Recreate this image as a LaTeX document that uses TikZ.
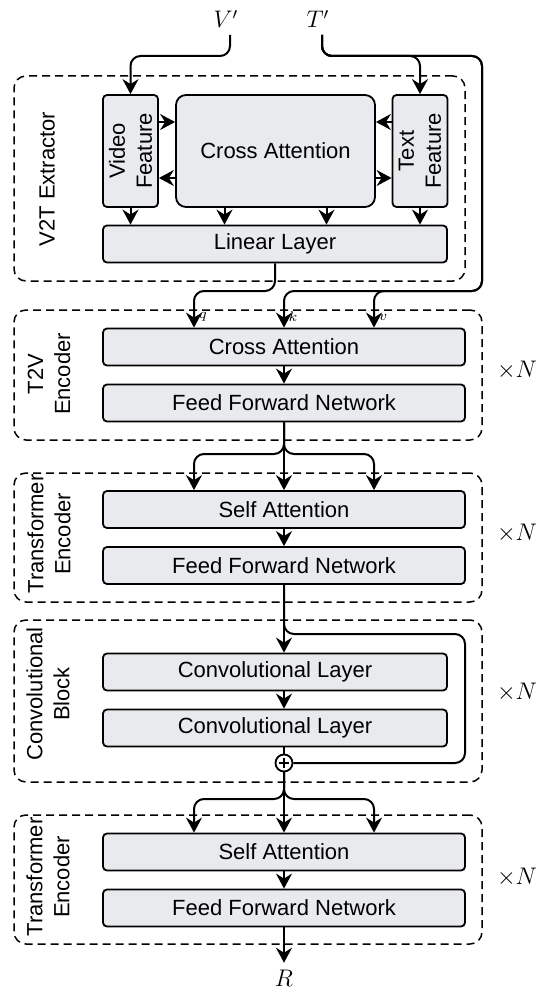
\documentclass[tikz,border=0pt]{standalone}
\usepackage{fontspec}
\setmainfont{Liberation Sans}
\usepackage{amsmath}
\usetikzlibrary{arrows.meta,calc,positioning}
\definecolor{blkfill}{RGB}{232,234,237}
\tikzset{
  blk/.style={draw, line width=0.9pt, fill=blkfill, rounded corners=2pt, inner sep=0pt, font=\fontsize{11}{13}\selectfont},
  wideblk/.style={blk, minimum width=181pt, minimum height=18.5pt},
  convblk/.style={blk, minimum width=172pt, minimum height=18.5pt},
  grp/.style={draw, dash pattern=on 4pt off 2.5pt, line width=0.75pt, rounded corners=6pt, minimum width=234pt, inner sep=0pt},
  grplbl/.style={rotate=90, align=center, font=\fontsize{11}{13.5}\selectfont},
  ln/.style={line width=1pt, rounded corners=5pt},
  arr/.style={ln, -{Stealth[length=7.5pt,width=8pt,inset=2.5pt]}},
  mlbl/.style={font=\fontsize{12}{14}\selectfont},
  idx/.style={font=\fontsize{7}{8}\selectfont, inner sep=0pt},
}
\begin{document}
\begin{tikzpicture}[x=0.5pt,y=-0.5pt]
\useasboundingbox (0,0) rectangle (539,990);

\node[grp, minimum width=225.5pt, minimum height=102.5pt] (v2tgrp) at (239.5,178.5) {};
\node[grp, minimum height=65pt] (t2vgrp) at (248,375) {};
\node[grp, minimum height=64.5pt] (trfgrpa) at (248,537.5) {};
\node[grp, minimum height=81pt] (convgrp) at (248,701) {};
\node[grp, minimum height=64.5pt] (trfgrpb) at (248,879.5) {};

\node[grplbl] (v2tlbl) at (47,179) {V2T Extractor};
\node[grplbl] (t2vlbl) at (49,374) {T2V\\Encoder};
\node[grplbl] (trflbla) at (49,534) {Transformer\\Encoder};
\node[grplbl] (convlbl) at (48,694) {Convolutional\\Block};
\node[grplbl] (trflblb) at (48,877) {Transformer\\Encoder};

\foreach \y/\n in {370/a,533/b,692/c,877/d}
  \node[mlbl] (rep\n) at (517,\y) {$\times N$};

\node[mlbl] (vin) at (226,19) {$V'$};
\node[mlbl] (tin) at (318,19) {$T'$};

\node[blk, minimum width=27.5pt, minimum height=56pt] (vidfeat) at (130.5,151) {};
\node[grplbl] (vidlbl) at (vidfeat) {Video\\Feature};
\node[blk, rounded corners=5pt, minimum width=99.5pt, minimum height=56pt] (crossa) at (275.5,151) {Cross Attention};
\node[blk, minimum width=27.5pt, minimum height=56pt] (txtfeat) at (420,151) {};
\node[grplbl] (txtlbl) at (txtfeat) {Text\\Feature};
\node[convblk] (linear) at (275,244) {Linear Layer};

\node[wideblk] (crossb) at (284,347) {Cross Attention};
\node[wideblk] (ffna) at (284,403) {Feed Forward Network};
\node[wideblk] (selfa) at (284,509.5) {Self Attention};
\node[wideblk] (ffnb) at (284,565.5) {Feed Forward Network};
\node[convblk] (conva) at (275,672) {Convolutional Layer};
\node[convblk] (convb) at (275,728) {Convolutional Layer};
\node[draw, circle, line width=0.9pt, minimum size=8.5pt, inner sep=0pt] (plus) at (284,763) {};
\draw[line width=0.8pt] ([xshift=-2.6pt]plus.center) -- ([xshift=2.6pt]plus.center)
  ([yshift=-2.6pt]plus.center) -- ([yshift=2.6pt]plus.center);
\node[wideblk] (selfb) at (284,852) {Self Attention};
\node[wideblk] (ffnc) at (284,908) {Feed Forward Network};
\node[mlbl] (rout) at (284,978) {$R$};

\coordinate (qend) at ([xshift=-45pt]crossb.north);
\coordinate (vend) at ([xshift=45pt]crossb.north);
\coordinate (selfal) at ([xshift=-45pt]selfa.north);
\coordinate (selfar) at ([xshift=45pt]selfa.north);
\coordinate (selfbl) at ([xshift=-45pt]selfb.north);
\coordinate (selfbr) at ([xshift=45pt]selfb.north);

\draw[arr] ([xshift=2pt]vin.south) |- (vidfeat.north |- 0,56) -- (vidfeat.north);
\draw[arr] ([xshift=2pt]tin.south) |- (txtfeat.north |- 0,56) -- (txtfeat.north);
\draw[arr] ([xshift=2pt]tin.south) |- (482,56) |- (crossb.north |- 0,291) -- (crossb.north);
\draw[arr] ([xshift=2pt]tin.south) |- (482,56) |- (vend |- 0,291) -- (vend);

\draw[arr] ([yshift=14.5pt]vidfeat.east) -- ([yshift=14.5pt]crossa.west);
\draw[arr] ([yshift=-13.5pt]crossa.west) -- ([yshift=-13.5pt]vidfeat.east);
\draw[arr] ([yshift=14.5pt]txtfeat.west) -- ([yshift=14.5pt]crossa.east);
\draw[arr] ([yshift=-13.5pt]crossa.east) -- ([yshift=-13.5pt]txtfeat.west);

\draw[arr] (vidfeat.south) -- (vidfeat.south |- linear.north);
\draw[arr] ([xshift=-25.5pt]crossa.south) -- ([xshift=-25.5pt]crossa.south |- linear.north);
\draw[arr] ([xshift=25.5pt]crossa.south) -- ([xshift=25.5pt]crossa.south |- linear.north);
\draw[arr] (txtfeat.south) -- (txtfeat.south |- linear.north);

\draw[arr] (linear.south) |- (qend |- 0,291) -- (qend);
\node[idx] (qlbl) at (203,317) {$q$};
\node[idx] (klbl) at (293,317) {$k$};
\node[idx] (vlbl) at (383,317) {$v$};

\draw[arr] (crossb) -- (ffna);
\draw[arr] (ffna.south) -- (selfa.north);
\draw[arr] (ffna.south) -- (ffna.south |- 0,454) -| (selfal);
\draw[arr] (ffna.south) -- (ffna.south |- 0,454) -| (selfar);
\draw[arr] (selfa) -- (ffnb);

\draw[arr] (ffnb.south) -- (ffnb.south |- conva.north);
\draw[ln] (ffnb.south) |- (465,634) |- (plus.east);
\draw[arr] (plus |- conva.south) -- (plus |- convb.north);
\draw[ln] (plus |- convb.south) -- (plus.north);

\draw[arr] (plus.south) -- (selfb.north);
\draw[arr] (plus.south) -- (plus.south |- 0,799) -| (selfbl);
\draw[arr] (plus.south) -- (plus.south |- 0,799) -| (selfbr);
\draw[arr] (selfb) -- (ffnc);
\draw[arr] (ffnc) -- (rout);
\end{tikzpicture}
\end{document}
